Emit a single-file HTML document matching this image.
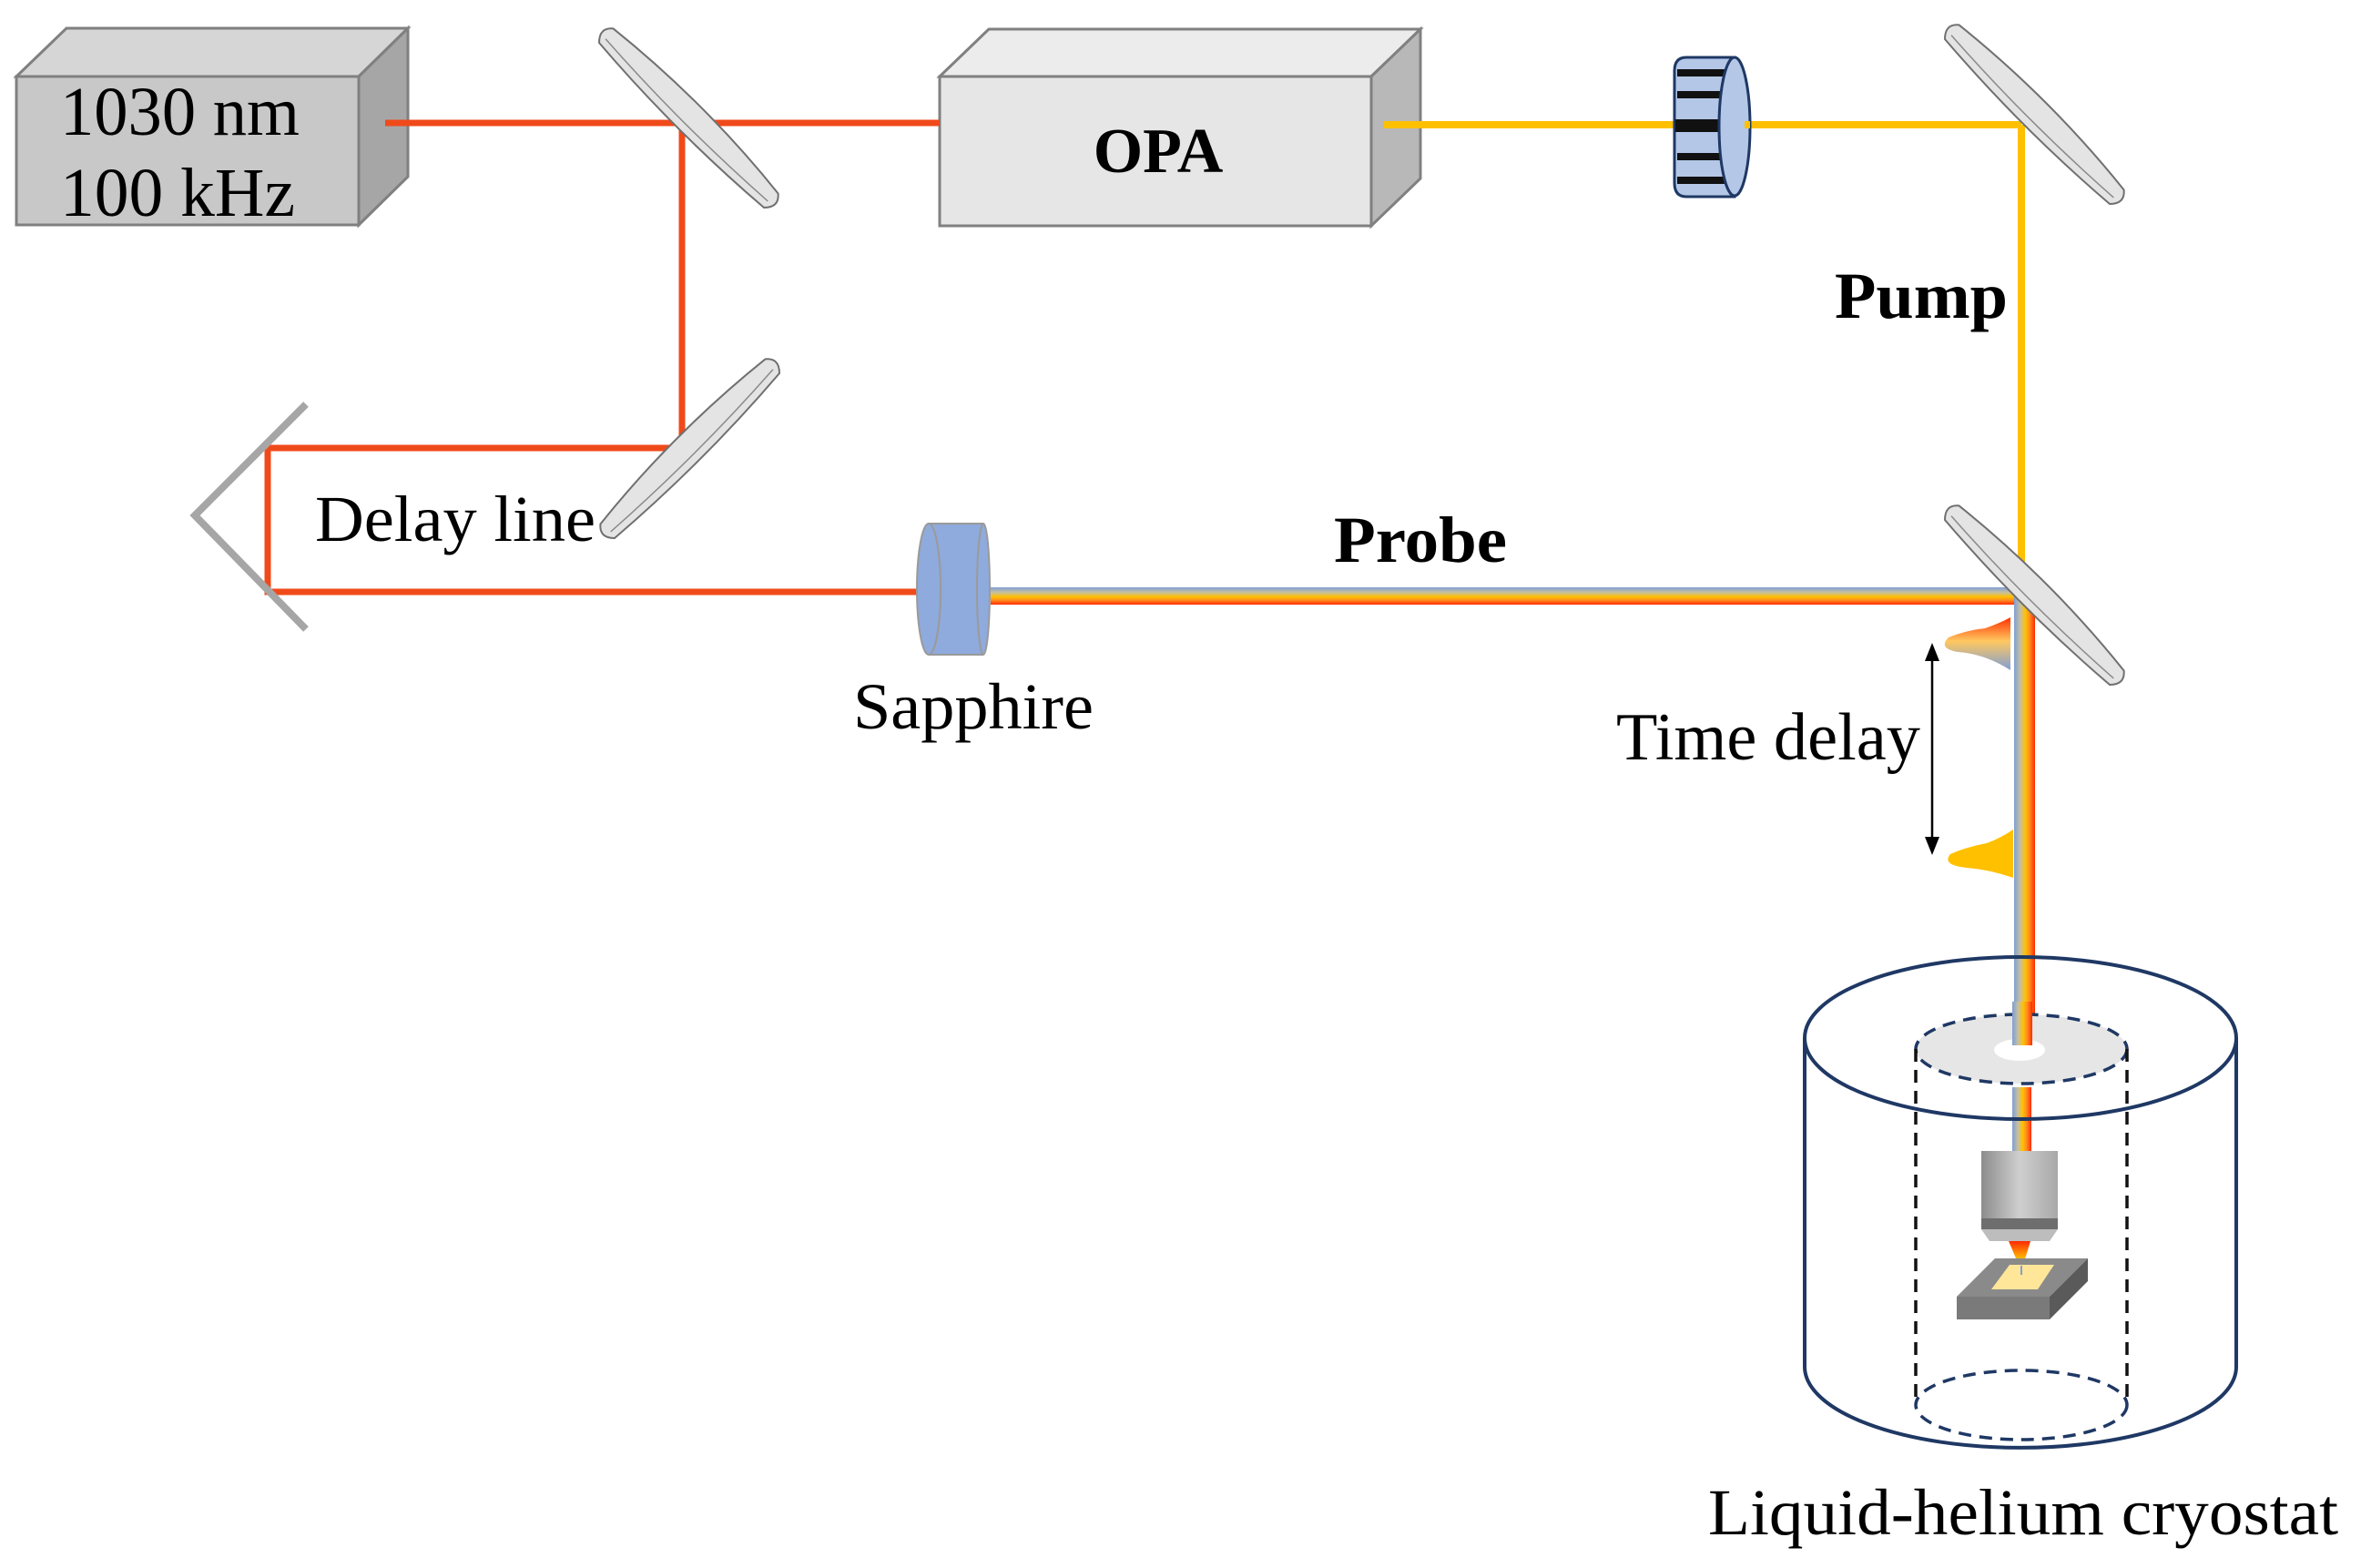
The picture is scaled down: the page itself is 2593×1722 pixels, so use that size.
<!DOCTYPE html>
<html><head><meta charset="utf-8"><style>
html,body{margin:0;padding:0;background:#fff;}
svg{display:block;}
text{font-family:"Liberation Serif",serif;fill:#000;}
</style></head><body>
<svg width="2593" height="1722" viewBox="0 0 2593 1722" xmlns="http://www.w3.org/2000/svg">
<defs>
<linearGradient id="rbH" x1="0" y1="0" x2="0" y2="1">
<stop offset="0" stop-color="#7f9fd6"/><stop offset="0.3" stop-color="#c8c0a0"/><stop offset="0.55" stop-color="#ffc000"/><stop offset="0.75" stop-color="#ff8a20"/><stop offset="1" stop-color="#ff2a00"/>
</linearGradient>
<linearGradient id="rbV" x1="0" y1="0" x2="1" y2="0">
<stop offset="0" stop-color="#7f9fd6"/><stop offset="0.3" stop-color="#c8c0a0"/><stop offset="0.55" stop-color="#ffc000"/><stop offset="0.75" stop-color="#ff8a20"/><stop offset="1" stop-color="#ff2a00"/>
</linearGradient>
<linearGradient id="pulse" x1="0" y1="0" x2="0" y2="1">
<stop offset="0" stop-color="#ff3000"/><stop offset="0.45" stop-color="#ffc860"/><stop offset="1" stop-color="#7f9fd6"/>
</linearGradient>
<linearGradient id="obj" x1="0" y1="0" x2="1" y2="0">
<stop offset="0" stop-color="#8c8c8c"/><stop offset="0.5" stop-color="#cfcfcf"/><stop offset="1" stop-color="#a8a8a8"/>
</linearGradient>
<linearGradient id="cone" x1="0" y1="0" x2="0" y2="1">
<stop offset="0" stop-color="#ff2a00"/><stop offset="0.6" stop-color="#ffc000"/><stop offset="1" stop-color="#7f9fd6"/>
</linearGradient>
<g id="mirror">
<path d="M-128,-10 Q-140,0 -128,12 Q0,22 128,12 Q140,0 128,-10 Q0,-24 -128,-10 Z" fill="#e4e4e4" stroke="#707070" stroke-width="2"/>
<path d="M-126,4 Q0,12 126,4" fill="none" stroke="#8a8a8a" stroke-width="1.5"/>
</g>
</defs>

<polygon points="18,84 73,31 448,31 394,84" fill="#d6d6d6" stroke="#808080" stroke-width="3"/>
<polygon points="394,84 448,31 448,194 394,247" fill="#a6a6a6" stroke="#808080" stroke-width="3"/>
<rect x="18" y="84" width="376" height="163" fill="#c8c8c8" stroke="#808080" stroke-width="3"/>
<text x="66" y="148" font-size="76" textLength="263" lengthAdjust="spacingAndGlyphs">1030 nm</text>
<text x="66" y="237" font-size="76" textLength="258" lengthAdjust="spacingAndGlyphs">100 kHz</text>

<polygon points="1032,84 1086,32 1560,32 1506,84" fill="#ececec" stroke="#808080" stroke-width="3"/>
<polygon points="1506,84 1560,32 1560,196 1506,248" fill="#b8b8b8" stroke="#808080" stroke-width="3"/>
<rect x="1032" y="84" width="474" height="164" fill="#e6e6e6" stroke="#808080" stroke-width="3"/>
<text x="1272" y="189" font-size="70" font-weight="bold" text-anchor="middle">OPA</text>

<g stroke="#f04a1a" stroke-width="7" fill="none">
<line x1="423" y1="135" x2="1032" y2="135"/>
<polyline points="749,135 749,492 294,492 294,650 1007,650"/>
</g>
<polyline points="336,444 214,566 336,691" fill="none" stroke="#a6a6a6" stroke-width="8"/>
<text x="346" y="594" font-size="72" textLength="308" lengthAdjust="spacingAndGlyphs">Delay line</text>

<g stroke="#ffc000" stroke-width="8" fill="none">
<line x1="1520" y1="137" x2="1845" y2="137"/>
<line x1="1916" y1="137" x2="2220" y2="137"/>
<line x1="2220" y1="137" x2="2220" y2="650"/>
</g>
<path d="M1905,63 L1852,63 Q1839,63 1839,78 L1839,201 Q1839,216 1852,216 L1905,216 Z" fill="#b4c7e7" stroke="#1f3864" stroke-width="3"/>
<g fill="#111">
<rect x="1842" y="76" width="58" height="8"/>
<rect x="1842" y="100" width="58" height="8"/>
<rect x="1840" y="131" width="60" height="14"/>
<rect x="1842" y="168" width="58" height="8"/>
<rect x="1842" y="194" width="58" height="8"/>
</g>
<ellipse cx="1905" cy="139" rx="17" ry="76" fill="#b4c7e7" stroke="#1f3864" stroke-width="3"/>
<line x1="1916" y1="137" x2="1922" y2="137" stroke="#ffc000" stroke-width="8"/>
<text x="2015" y="349" font-size="72" font-weight="bold" textLength="190" lengthAdjust="spacingAndGlyphs">Pump</text>

<rect x="1020" y="575" width="60" height="144" fill="#8faadc"/>
<ellipse cx="1080" cy="647" rx="7" ry="72" fill="#8faadc" stroke="#9a9a9a" stroke-width="2"/>
<ellipse cx="1020" cy="647" rx="13" ry="72" fill="#8faadc" stroke="#9a9a9a" stroke-width="2"/>
<line x1="1020" y1="575" x2="1080" y2="575" stroke="#9a9a9a" stroke-width="2"/>
<line x1="1020" y1="719" x2="1080" y2="719" stroke="#9a9a9a" stroke-width="2"/>
<text x="937" y="800" font-size="72" textLength="264" lengthAdjust="spacingAndGlyphs">Sapphire</text>

<rect x="1088" y="645" width="1147" height="19" fill="url(#rbH)"/>
<rect x="2212" y="650" width="23" height="500" fill="url(#rbV)"/>
<rect x="2210" y="1194" width="21" height="72" fill="url(#rbV)"/>
<text x="1465" y="617" font-size="72" font-weight="bold" textLength="190" lengthAdjust="spacingAndGlyphs">Probe</text>

<use href="#mirror" transform="translate(757,129) rotate(45)"/>
<use href="#mirror" transform="translate(757,492) rotate(-45)"/>
<use href="#mirror" transform="translate(2235,125) rotate(45)"/>
<use href="#mirror" transform="translate(2235,653) rotate(45)"/>

<path d="M2208,678 L2208,736 Q2180,718 2150,716 Q2128,712 2140,700 Q2160,692 2180,690 Q2195,685 2208,678 Z" fill="url(#pulse)"/>
<path d="M2211,911 L2211,964 Q2185,955 2160,953 Q2132,950 2142,938 Q2160,930 2182,926 Q2198,920 2211,911 Z" fill="#ffc000"/>
<line x1="2122" y1="720" x2="2122" y2="925" stroke="#000" stroke-width="2.5"/>
<polygon points="2122,706 2114,726 2130,726" fill="#000"/>
<polygon points="2122,939 2114,919 2130,919" fill="#000"/>
<text x="1775" y="834" font-size="74" textLength="334" lengthAdjust="spacingAndGlyphs">Time delay</text>

<g fill="none" stroke="#1f3864" stroke-width="4">
<ellipse cx="2219" cy="1140" rx="237" ry="89"/>
<path d="M1982,1140 L1982,1501 A237,89 0 0 0 2456,1501 L2456,1140"/>
</g>
<ellipse cx="2220" cy="1152" rx="116" ry="38" fill="#e6e6e6" stroke="#1f3864" stroke-width="3.5" stroke-dasharray="14,9"/>
<ellipse cx="2218" cy="1153" rx="28" ry="12" fill="#fff"/>
<rect x="2210" y="1100" width="22" height="48" fill="url(#rbV)"/>
<g fill="none" stroke="#111" stroke-width="3.5" stroke-dasharray="14,9">
<line x1="2104" y1="1152" x2="2104" y2="1543"/>
<line x1="2336" y1="1152" x2="2336" y2="1543"/>
</g>
<ellipse cx="2220" cy="1543" rx="116" ry="38" fill="none" stroke="#1f3864" stroke-width="3.5" stroke-dasharray="14,9"/>
<rect x="2176" y="1264" width="84" height="74" fill="url(#obj)"/>
<rect x="2176" y="1338" width="84" height="12" fill="#6e6e6e"/>
<polygon points="2176,1350 2260,1350 2251,1363 2185,1363" fill="#bdbdbd"/>
<polygon points="2206,1363 2230,1363 2220,1396" fill="url(#cone)"/>
<polygon points="2149,1424 2191,1382 2293,1382 2251,1424" fill="#8a8a8a"/>
<polygon points="2251,1424 2293,1382 2293,1407 2251,1449" fill="#5a5a5a"/>
<rect x="2149" y="1424" width="102" height="25" fill="#7a7a7a"/>
<polygon points="2187,1416 2207,1389 2256,1389 2238,1416" fill="#ffe699"/>
<line x1="2220" y1="1390" x2="2220" y2="1400" stroke="#7f9fd6" stroke-width="2"/>
<text x="1876" y="1685" font-size="72" textLength="692" lengthAdjust="spacingAndGlyphs">Liquid-helium cryostat</text>
</svg>
</body></html>
